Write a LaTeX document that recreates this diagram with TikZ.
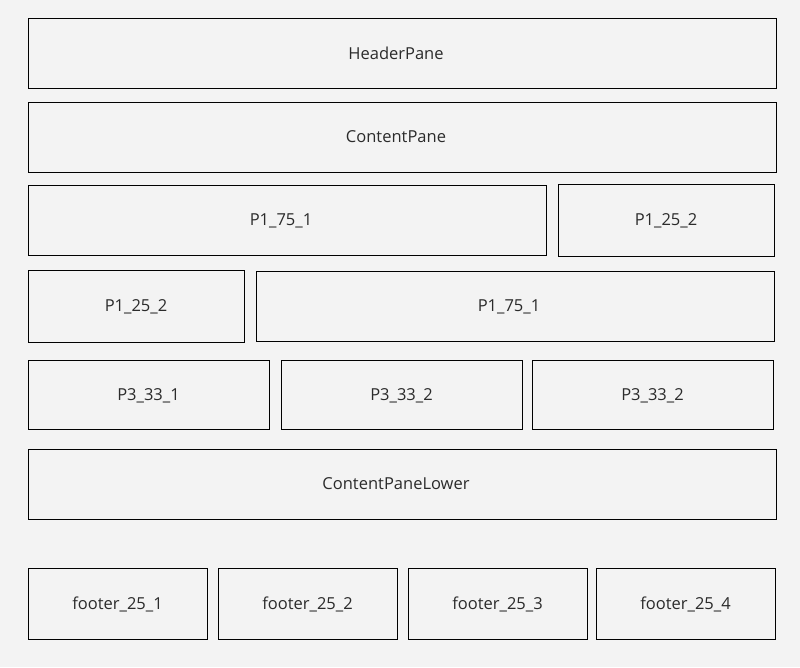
\documentclass[tikz,border=0pt]{standalone}
\usepackage{fontspec}
\setmainfont{Open Sans}
\usepackage{tikz}
\usetikzlibrary{positioning}
\definecolor{bgpane}{HTML}{F3F3F3}
\definecolor{txtpane}{HTML}{2B2B2B}
\tikzset{pane/.style 2 args={draw=black, line width=1pt, inner sep=0pt, outer sep=0pt,
  anchor=north west, minimum width=#1pt, minimum height=#2pt,
  font=\fontsize{16.5}{19}\selectfont, text=txtpane, text depth=-2pt},
  widepane/.style={execute at begin node=\hspace*{-12pt}}}

\begin{document}
\begin{tikzpicture}[x=1pt,y=1pt]
\fill[bgpane] (0,0) rectangle (800,-667);
\useasboundingbox (0,0) rectangle (800,-667);
\node[pane={748}{70},widepane] (header) at (28,-18) {HeaderPane};
\node[pane={748}{70},widepane] (content) at (28,-102) {ContentPane};
% row one
\node[pane={518}{70},widepane] (rowAbig) at (28,-185) {P1\_75\_1};
\node[pane={216}{72}] (rowAsmall) at (558,-184) {P1\_25\_2};
% row two
\node[pane={216}{72}] (rowBsmall) at (28,-270) {P1\_25\_2};
\node[pane={518}{70},widepane] (rowBbig) at (256,-271) {P1\_75\_1};
% three columns
\node[pane={241}{69}] (colA) at (28,-360) {P3\_33\_1};
\node[pane={241}{69}] (colB) at (281,-360) {P3\_33\_2};
\node[pane={241}{69}] (colC) at (532,-360) {P3\_33\_2};
\node[pane={748}{70},widepane] (lower) at (28,-449) {ContentPaneLower};
% footer
\foreach \i/\x/\w in {1/28/179,2/218/179,3/408/179,4/596/179} {
\node[pane={\w}{71}] (footer\i) at (\x,-568) {footer\_25\_\i};
}
\end{tikzpicture}
\end{document}
